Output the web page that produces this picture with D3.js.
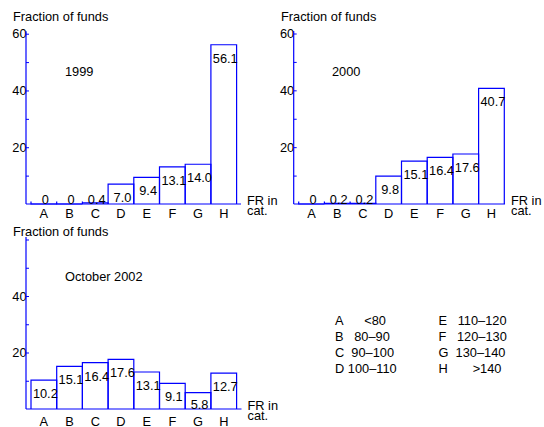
<!DOCTYPE html>
<html>
<head>
<meta charset="utf-8">
<script src="https://cdn.jsdelivr.net/npm/d3@7"></script>
<style>
  body { margin: 0; background: #fff; }
  svg { display: block; }
  text { font-family: "Liberation Sans", Arial, sans-serif; font-size: 12.8px; fill: #000; }
  .legend { white-space: pre; }
</style>
</head>
<body>
<div id="chart"></div>
<script>
// data
var categories = ['A', 'B', 'C', 'D', 'E', 'F', 'G', 'H'];
var funds1999 = [0, 0, 0.4, 7.0, 9.4, 13.1, 14.0, 56.1];
var funds2000 = [0, 0.2, 0.2, 9.8, 15.1, 16.4, 17.6, 40.7];
var funds2002 = [10.2, 15.1, 16.4, 17.6, 13.1, 9.1, 5.8, 12.7];
var yTicks = [10, 20, 30, 40, 50, 60];
var legendLabels = ['A      <80', 'B   80\u201390', 'C  90\u2013100', 'D 100\u2013110',
                    'E   110\u2013120', 'F   120\u2013130', 'G  130\u2013140', 'H       >140'];

var width = 544, height = 427, blue = '#0000ff', bandW = 25.7;

var svg = d3.select('#chart')
    .append('svg')
    .attr('width', width)
    .attr('height', height);

// panel layout (pixels)
var panels = [
    { values: funds1999, name: '1999', axisX: 26, base: 204, top: 33.7, xEnd: 241, labels: [20, 40, 60],
      titleX: 13, titleY: 20.5, nameX: 65, nameY: 76, catDy: 14 },
    { values: funds2000, name: '2000', axisX: 293.7, base: 204, top: 33.5, xEnd: 505, labels: [20, 40, 60],
      titleX: 281, titleY: 20.5, nameX: 332, nameY: 76, catDy: 14 },
    { values: funds2002, name: 'October 2002', axisX: 26, base: 409, top: 239.5, xEnd: 241.5, labels: [20, 40],
      titleX: 13, titleY: 236, nameX: 65, nameY: 281, catDy: 16.5 }
];

panels.forEach(function(p){
    var x = d3.scaleBand()
        .domain(categories)
        .range([p.axisX + 5, p.axisX + 5 + 8 * bandW]);
    var y = d3.scaleLinear()
        .domain([0, 60])
        .range([p.base, p.top]);

    var g = svg.append('g');

    // bars: open at the bottom, left edge keeps a small stub
    g.selectAll('.bar')
        .data(p.values)
        .enter()
        .append('path')
        .attr('class', 'bar')
        .attr('fill', 'none')
        .attr('stroke', blue)
        .attr('stroke-width', 1.2)
        .attr('d', function(d, i){
            var l = x(categories[i]), r = l + x.bandwidth(), t = y(d);
            return 'M' + l + ',' + p.base + 'V' + Math.min(t, p.base - 2.5)
                + 'V' + t + 'H' + r + 'V' + p.base;
        });

    // y axis
    var yAxis = d3.axisLeft(y)
        .tickValues(yTicks)
        .tickSize(-3)
        .tickPadding(-0.5)
        .tickFormat(function(d){ return p.labels.indexOf(d) >= 0 ? d : ''; });
    var yg = g.append('g')
        .attr('transform', 'translate(' + p.axisX + ',0)')
        .call(yAxis);
    yg.select('.domain').remove();
    yg.selectAll('line').attr('stroke', blue);
    yg.selectAll('text').attr('font-size', null).attr('font-family', null).attr('fill', '#000');

    g.append('line')
        .attr('x1', p.axisX).attr('x2', p.axisX)
        .attr('y1', p.base).attr('y2', y(60) - 2.5)
        .attr('stroke', blue).attr('stroke-width', 1.2);
    g.append('line')
        .attr('x1', p.axisX).attr('x2', p.xEnd)
        .attr('y1', p.base).attr('y2', p.base)
        .attr('stroke', blue).attr('stroke-width', 1.2);

    // category labels
    var xg = g.append('g')
        .attr('transform', 'translate(0,' + p.base + ')')
        .call(d3.axisBottom(x).tickSize(0).tickPadding(0));
    xg.select('.domain').remove();
    xg.selectAll('text')
        .attr('font-size', null).attr('font-family', null)
        .attr('fill', '#000')
        .attr('dy', null)
        .attr('y', p.catDy);

    // value labels
    g.selectAll('.val')
        .data(p.values)
        .enter()
        .append('text')
        .attr('class', 'val')
        .attr('text-anchor', 'middle')
        .attr('x', function(d, i){ return x(categories[i]) + x.bandwidth() / 2 + 1.5; })
        .attr('y', function(d){ return Math.min(y(d) + 18, p.base - 0.5); })
        .text(function(d){ return d === 0 ? '0' : d.toFixed(1); });

    g.append('text').attr('x', p.titleX).attr('y', p.titleY).text('Fraction of funds');
    g.append('text').attr('x', p.nameX).attr('y', p.nameY).text(p.name);
    g.append('text').attr('x', p.xEnd + 6).attr('y', p.base + 0.5).text('FR in');
    g.append('text').attr('x', p.xEnd + 6).attr('y', p.base + 11).text('cat.');
});

// legend of categories
svg.selectAll('.legend')
    .data(legendLabels)
    .enter()
    .append('text')
    .attr('class', 'legend')
    .attr('x', function(d, i){ return i < 4 ? 335 : 438.5; })
    .attr('y', function(d, i){ return 324.5 + (i % 4) * 16.3; })
    .text(function(d){ return d; });
</script>
</body>
</html>
